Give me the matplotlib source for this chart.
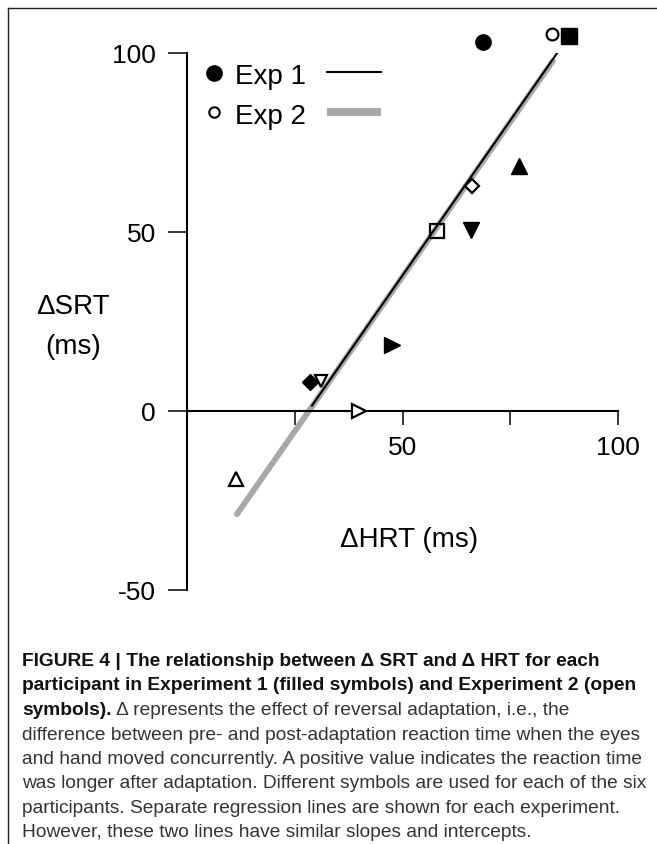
"""Figure 4 re-draw: change in saccade RT vs change in hand RT per participant."""
import matplotlib
matplotlib.use("Agg")
import matplotlib.pyplot as plt
from matplotlib.lines import Line2D

plt.rcParams["font.family"] = ["Liberation Sans", "DejaVu Sans"]

# ---- data (ms), one symbol per participant ----
markers = ["o", "s", "^", "v", ">", "D"]
exp1_hrt = [68.7, 88.6, 77.0, 65.9, 47.6, 28.5]
exp1_srt = [103.0, 104.7, 68.4, 50.6, 18.4, 8.1]
exp2_hrt = [84.7, 58.0, 31.1, 40.0, 11.4, 66.1]
exp2_srt = [105.3, 50.3, 8.4, 0.0, -19.0, 62.8]
exp2_markers = ["o", "s", "v", ">", "^", "D"]

# regression lines as drawn (endpoints span each experiment's HRT range)
exp1_line_hrt = [29.0, 88.6]
exp1_line_srt = [1.5, 104.7]
exp2_line_hrt = [11.6, 84.9]
exp2_line_srt = [-28.8, 97.8]

y_ticks = [-50, 0, 50, 100]
x_ticks = [25, 50, 75, 100]
x_tick_labels = ["", "50", "", "100"]

caption_lines = [
    ("FIGURE 4 | The relationship between \u0394 SRT and \u0394 HRT for each", ""),
    ("participant in Experiment 1 (filled symbols) and Experiment 2 (open", ""),
    ("symbols).", "\u0394 represents the effect of reversal adaptation, i.e., the"),
    ("", "difference between pre- and post-adaptation reaction time when the eyes"),
    ("", "and hand moved concurrently. A positive value indicates the reaction time"),
    ("", "was longer after adaptation. Different symbols are used for each of the six"),
    ("", "participants. Separate regression lines are shown for each experiment."),
    ("", "However, these two lines have similar slopes and intercepts."),
]

W, H = 657, 845


def fx(x):
    return x / W


def fy(y):
    return 1 - y / H


fig = plt.figure(figsize=(W / 100, H / 100), dpi=100)

# thin frame on top and left edges of the panel
fig.add_artist(Line2D([fx(8), 1], [fy(9), fy(9)], transform=fig.transFigure,
                      color="#222222", lw=1.0))
fig.add_artist(Line2D([fx(8), fx(8)], [fy(9), 0], transform=fig.transFigure,
                      color="#222222", lw=1.0))

ax = fig.add_axes([fx(187), fy(591), (618 - 187) / W, (591 - 54) / H])
ax.set_xlim(0, 100)
ax.set_ylim(-50, 100)
ax.patch.set_visible(False)

for side in ("top", "right"):
    ax.spines[side].set_visible(False)
ax.spines["bottom"].set_position(("data", 0))
ax.spines["bottom"].set_bounds(0, 100)
ax.spines["left"].set_bounds(-50, 100)
for side in ("bottom", "left"):
    ax.spines[side].set_linewidth(1.5)

ax.set_yticks(y_ticks)
ax.set_yticklabels([str(v) for v in y_ticks])
ax.set_xticks(x_ticks)
ax.set_xticklabels(x_tick_labels)
ax.tick_params(axis="y", direction="out", length=13.5, width=1.1, pad=9, labelsize=19)
ax.tick_params(axis="x", direction="out", length=10, width=1.1, pad=7, labelsize=19)

# regression lines: grey for Exp 2 underneath, black for Exp 1 on top
ax.plot(exp2_line_hrt, exp2_line_srt, color="#a8a8a8", lw=4.2,
        solid_capstyle="round", zorder=2)
ax.plot(exp1_line_hrt, exp1_line_srt, color="black", lw=1.5, zorder=3)

filled_sizes = {"o": 11, "s": 11, "^": 11, "v": 11, ">": 11, "D": 8.5}
open_sizes = {"o": 8.5, "s": 10, "^": 10.5, "v": 9, ">": 9.5, "D": 7}

for m, x, y in zip(markers, exp1_hrt, exp1_srt):
    ax.plot([x], [y], marker=m, ms=filled_sizes[m], color="black",
            ls="none", clip_on=False, zorder=5)
for m, x, y in zip(exp2_markers, exp2_hrt, exp2_srt):
    ax.plot([x], [y], marker=m, ms=open_sizes[m], mfc="none" if m == "s" else "white",
            mec="black", mew=1.6, ls="none", clip_on=False, zorder=4)

# axis titles
fig.text(fx(73), fy(307), "\u0394SRT", ha="center", va="center", fontsize=20)
fig.text(fx(73), fy(347), "(ms)", ha="center", va="center", fontsize=20)
fig.text(fx(409), fy(540), "\u0394HRT (ms)", ha="center", va="center", fontsize=20)

# legend drawn by hand: symbol, label, line sample
fig.add_artist(Line2D([fx(214)], [fy(74)], transform=fig.transFigure, marker="o",
                      ms=11, color="black", ls="none"))
fig.add_artist(Line2D([fx(214)], [fy(113)], transform=fig.transFigure, marker="o",
                      ms=7.5, mfc="white", mec="black", mew=1.5, ls="none"))
fig.text(fx(235), fy(84), "Exp 1", ha="left", va="baseline", fontsize=20)
fig.text(fx(235), fy(124), "Exp 2", ha="left", va="baseline", fontsize=20)
fig.add_artist(Line2D([fx(327), fx(381)], [fy(73), fy(73)], transform=fig.transFigure,
                      color="black", lw=1.5))
fig.add_artist(Line2D([fx(327), fx(381)], [fy(113), fy(113)], transform=fig.transFigure,
                      color="#a8a8a8", lw=5.8, solid_capstyle="butt"))

# caption: scale the font so the widest regular line fills the column
renderer = fig.canvas.get_renderer()
probe = fig.text(0, 0, caption_lines[3][1], fontsize=12)
probe_w = probe.get_window_extent(renderer).width
probe.remove()
cap_size = 12 * (643 - 22) / probe_w

x0 = 22
for i, (bold, regular) in enumerate(caption_lines):
    base = 666 + i * 24.5
    offset = 0
    if bold:
        t = fig.text(fx(x0), fy(base), bold, fontsize=cap_size, weight="bold",
                     color="#111111", va="baseline")
        offset = t.get_window_extent(renderer).width + cap_size * 0.3
    if regular:
        fig.text(fx(x0 + offset), fy(base), regular, fontsize=cap_size,
                 color="#333333", va="baseline")

fig.savefig("out.png", dpi=100)
